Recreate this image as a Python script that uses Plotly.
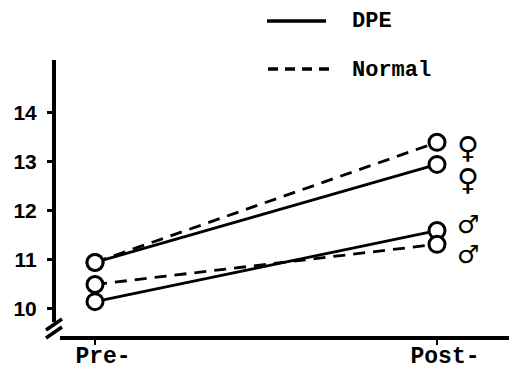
import plotly.graph_objects as go

# Group means at the two measurement points
phases = ["Pre-", "Post-"]
x_pos = [0, 1]
dpe_female = [10.95, 12.95]
normal_female = [10.95, 13.40]
dpe_male = [10.15, 11.60]
normal_male = [10.50, 11.32]
y_ticks = [10, 11, 12, 13, 14]

W, H = 509, 369
M_L, M_R, M_T, M_B = 54, 0, 60, 31
PW, PH = W - M_L - M_R, H - M_T - M_B

def px(xp):
    return (xp - M_L) / PW

def py(yp):
    return (H - M_B - yp) / PH

BLACK = "#000000"
series = [
    (dpe_female, "solid"),
    (normal_female, "12px,8px"),
    (dpe_male, "solid"),
    (normal_male, "12px,8px"),
]

fig = go.Figure()
for vals, dash in series:
    fig.add_trace(go.Scatter(
        x=x_pos, y=vals, mode="lines",
        line=dict(color=BLACK, width=2.8, dash=dash),
        showlegend=False, hoverinfo="skip",
    ))
# open circles drawn above all lines
for vals, _ in series:
    fig.add_trace(go.Scatter(
        x=x_pos, y=vals, mode="markers",
        marker=dict(size=16, color="white", line=dict(color=BLACK, width=3)),
        showlegend=False, hoverinfo="skip",
    ))

shapes = []
# broken y axis and x axis lines
shapes.append(dict(type="line", xref="paper", yref="paper", x0=0, x1=0,
                   y0=1, y1=py(322), line=dict(color=BLACK, width=4)))
shapes.append(dict(type="line", xref="paper", yref="paper", x0=px(60), x1=1,
                   y0=0, y1=0, line=dict(color=BLACK, width=4)))
for dy in (0, 8):
    shapes.append(dict(type="line", xref="paper", yref="paper",
                       x0=px(46), y0=py(330 + dy), x1=px(62), y1=py(319 + dy),
                       line=dict(color=BLACK, width=3.5)))

# legend key lines
shapes.append(dict(type="line", xref="paper", yref="paper",
                   x0=px(267), x1=px(326), y0=py(21), y1=py(21),
                   line=dict(color=BLACK, width=3.5)))
shapes.append(dict(type="line", xref="paper", yref="paper",
                   x0=px(268), x1=px(332), y0=py(69), y1=py(69),
                   line=dict(color=BLACK, width=3.5, dash="10px,7px")))

mono = dict(family="Liberation Mono", size=22, color=BLACK)
annotations = [
    dict(xref="paper", yref="paper", x=px(350), y=py(22), text="<b>DPE</b>",
         showarrow=False, xanchor="left", yanchor="middle", font=mono),
    dict(xref="paper", yref="paper", x=px(350), y=py(70), text="<b>Normal</b>",
         showarrow=False, xanchor="left", yanchor="middle", font=mono),
]
# sex symbols beside the post-test circles
for sym, yp, size in (("♀", 147, 30), ("♀", 179, 30), ("♂", 224, 25), ("♂", 254, 25)):
    annotations.append(dict(xref="paper", yref="paper", x=px(468), y=py(yp),
                            text="<b>" + sym + "</b>", showarrow=False,
                            xanchor="center", yanchor="middle",
                            font=dict(family="DejaVu Sans", size=size, color=BLACK)))

fig.update_layout(
    width=W, height=H,
    margin=dict(l=M_L, r=M_R, t=M_T, b=M_B, autoexpand=False),
    paper_bgcolor="white", plot_bgcolor="white",
    shapes=shapes, annotations=annotations,
    xaxis=dict(range=[-0.1199, 1.2105], tickvals=x_pos,
               ticktext=["<b>" + p + "</b>" for p in phases],
               ticks="outside", ticklen=6, tickwidth=2, tickcolor=BLACK,
               ticklabelshift=8, ticklabelstandoff=-10, automargin=False,
               showline=False, showgrid=False, zeroline=False,
               tickfont=dict(family="Liberation Mono", size=23, color=BLACK)),
    yaxis=dict(range=[9.408, 15.08], tickvals=y_ticks,
               ticktext=["<b>%d</b>" % v for v in y_ticks],
               ticks="outside", ticklen=6, tickwidth=2.5, tickcolor=BLACK,
               ticklabelstandoff=6, automargin=False,
               showline=False, showgrid=False, zeroline=False,
               tickfont=dict(family="Liberation Sans", size=21, color=BLACK)),
)

fig.write_html("out.html")
